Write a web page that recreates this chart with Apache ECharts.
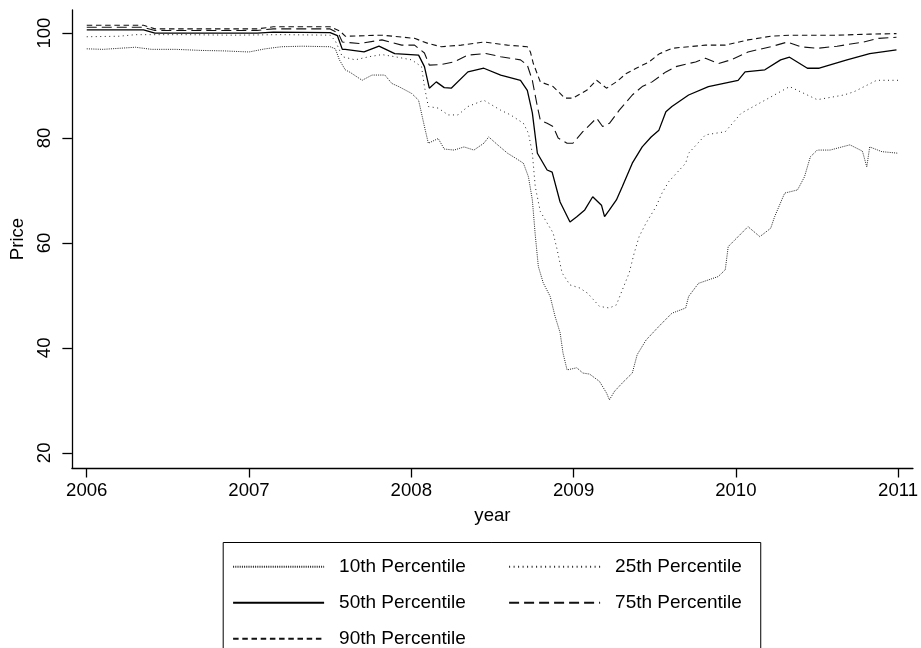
<!DOCTYPE html>
<html>
<head>
<meta charset="utf-8">
<script src="https://cdn.jsdelivr.net/npm/echarts@6/dist/echarts.min.js"></script>
<style>
html,body{margin:0;padding:0;background:#fff;}
#chart{width:921px;height:648px;}
</style>
</head>
<body>
<div id="chart"></div>
<script>
// ---- data ----
var seriesNames = ['10th Percentile', '25th Percentile', '50th Percentile', '75th Percentile', '90th Percentile'];
var xTickLabels = [2006, 2007, 2008, 2009, 2010, 2011];
var yTickLabels = [20, 40, 60, 80, 100];

var p10Years = [2006.00,2006.10,2006.20,2006.30,2006.40,2006.55,2006.70,2006.85,2007.00,2007.10,2007.20,2007.33,2007.50,2007.532,2007.557,2007.593,2007.624,2007.697,2007.758,2007.837,2007.880,2007.923,2008.002,2008.045,2008.081,2008.105,2008.166,2008.203,2008.264,2008.325,2008.386,2008.447,2008.477,2008.532,2008.593,2008.630,2008.691,2008.722,2008.746,2008.764,2008.783,2008.813,2008.856,2008.886,2008.917,2008.935,2008.960,2009.020,2009.057,2009.099,2009.160,2009.203,2009.221,2009.252,2009.300,2009.362,2009.392,2009.447,2009.526,2009.606,2009.691,2009.709,2009.770,2009.892,2009.935,2009.953,2010.014,2010.075,2010.148,2010.215,2010.239,2010.301,2010.380,2010.423,2010.459,2010.502,2010.581,2010.703,2010.780,2010.807,2010.825,2010.900,2011.000];
var p10Values = [97.0,96.9,97.1,97.3,96.9,96.9,96.7,96.6,96.4,97.0,97.4,97.5,97.4,97.0,94.9,93.0,92.5,91.0,92.0,92.0,90.4,89.8,88.5,87.2,82.2,79.0,79.9,77.9,77.7,78.3,77.7,79.0,80.2,78.7,77.1,76.4,75.2,72.6,68.2,61.5,55.5,52.4,49.8,46.0,42.9,39.0,35.8,36.2,35.2,35.0,33.6,31.4,30.1,31.7,33.3,35.2,38.7,41.5,44.1,46.6,47.6,49.8,52.3,53.6,54.9,59.3,61.2,63.1,61.2,62.8,65.0,69.5,70.1,72.6,76.4,77.7,77.7,78.7,77.5,74.5,78.3,77.4,77.1];

var p25Years = [2006.00,2006.20,2006.30,2006.60,2006.90,2007.20,2007.50,2007.532,2007.557,2007.575,2007.654,2007.740,2007.819,2007.898,2008.002,2008.063,2008.081,2008.105,2008.166,2008.227,2008.288,2008.349,2008.447,2008.551,2008.612,2008.691,2008.722,2008.746,2008.764,2008.795,2008.837,2008.874,2008.899,2008.929,2008.978,2009.039,2009.087,2009.160,2009.221,2009.264,2009.300,2009.343,2009.374,2009.404,2009.447,2009.508,2009.545,2009.587,2009.691,2009.709,2009.813,2009.935,2010.032,2010.179,2010.331,2010.502,2010.666,2010.727,2010.868,2011.000];
var p25Values = [99.3,99.4,99.7,99.7,99.6,99.7,99.6,98.5,96.8,95.5,94.9,95.5,95.9,95.5,94.9,93.6,89.8,86.0,85.7,84.4,84.4,86.0,87.2,85.3,84.4,82.8,80.9,77.1,70.7,66.0,63.8,61.9,58.7,54.3,52.0,51.4,50.4,47.9,47.6,48.2,51.0,54.3,58.1,61.2,63.8,66.9,69.5,71.7,75.2,77.1,80.6,81.2,84.7,87.2,89.8,87.3,88.2,88.8,91.0,91.0];

var p50Years = [2006.00,2006.35,2006.42,2007.05,2007.15,2007.50,2007.545,2007.575,2007.593,2007.709,2007.801,2007.898,2008.045,2008.081,2008.111,2008.154,2008.203,2008.246,2008.349,2008.447,2008.551,2008.673,2008.715,2008.746,2008.777,2008.837,2008.868,2008.917,2008.978,2009.020,2009.069,2009.118,2009.172,2009.191,2009.221,2009.264,2009.300,2009.362,2009.423,2009.478,2009.526,2009.569,2009.606,2009.709,2009.831,2010.014,2010.057,2010.179,2010.276,2010.331,2010.441,2010.514,2010.685,2010.825,2010.990];
var p50Values = [100.6,100.6,100.0,100.0,100.2,100.1,99.5,96.9,96.9,96.4,97.5,96.1,95.8,93.6,89.5,90.7,89.6,89.5,92.6,93.3,92.0,91.0,89.1,84.8,77.1,73.9,73.5,67.8,64.0,65.0,66.3,68.8,67.2,65.0,66.3,68.2,70.7,75.2,78.3,80.2,81.5,85.0,86.0,88.2,89.8,91.0,92.6,93.0,94.9,95.4,93.3,93.3,94.9,96.1,96.8];

var p75Years = [2006.00,2006.35,2006.42,2007.05,2007.15,2007.50,2007.55,2007.575,2007.679,2007.819,2007.941,2008.020,2008.081,2008.111,2008.185,2008.264,2008.349,2008.459,2008.551,2008.673,2008.715,2008.746,2008.777,2008.795,2008.837,2008.874,2008.905,2008.960,2008.996,2009.057,2009.142,2009.179,2009.221,2009.282,2009.362,2009.423,2009.484,2009.569,2009.630,2009.752,2009.813,2009.892,2009.971,2010.075,2010.215,2010.319,2010.398,2010.502,2010.624,2010.788,2010.880,2010.990];
var p75Values = [101.1,101.1,100.5,100.5,100.8,100.8,100.0,98.3,98.0,98.7,97.7,97.7,96.2,93.9,94.0,94.5,95.8,96.1,95.5,94.9,93.9,91.0,86.0,83.4,82.8,82.2,80.0,79.0,79.0,81.2,83.8,82.2,82.8,85.3,88.2,89.8,90.7,92.6,93.6,94.5,95.2,94.2,94.9,96.4,97.4,98.3,97.4,97.1,97.5,98.3,99.0,99.2];

var p90Years = [2006.00,2006.35,2006.42,2007.05,2007.15,2007.50,2007.56,2007.593,2007.819,2008.020,2008.105,2008.185,2008.307,2008.447,2008.593,2008.715,2008.734,2008.752,2008.795,2008.874,2008.947,2008.996,2009.081,2009.142,2009.203,2009.264,2009.325,2009.386,2009.465,2009.526,2009.606,2009.813,2009.935,2010.075,2010.215,2010.337,2010.624,2010.825,2010.990];
var p90Values = [101.5,101.5,100.8,100.8,101.2,101.2,100.4,99.4,99.6,99.0,98.0,97.4,97.7,98.3,97.7,97.4,96.4,94.2,90.7,89.8,87.6,87.6,89.1,91.0,89.5,90.7,92.3,93.3,94.5,96.0,97.1,97.7,97.7,98.7,99.4,99.6,99.6,99.8,99.9];

// ---- build ----
function zip(xs, ys) { var out = []; for (var i = 0; i < xs.length; i++) out.push([xs[i], ys[i]]); return out; }
var FONT = '"Liberation Sans", Arial, Helvetica, sans-serif';
var styles = [
  { color: '#222', width: 1, type: [1, 1.2] },
  { color: '#222', width: 1, type: [1, 3.5] },
  { color: '#000', width: 1.3, type: 'solid' },
  { color: '#111', width: 1.1, type: [10, 5] },
  { color: '#111', width: 1.1, type: [5.5, 3.7] }
];
var datas = [zip(p10Years, p10Values), zip(p25Years, p25Values), zip(p50Years, p50Values), zip(p75Years, p75Values), zip(p90Years, p90Values)];

var series = seriesNames.map(function (n, i) {
  return {
    name: n, type: 'line', data: datas[i], symbol: 'none', showSymbol: false,
    lineStyle: styles[i], itemStyle: { color: styles[i].color }, animation: false
  };
});

var col1W = 154, col2W = 126;
var legendData = seriesNames.map(function (n, i) {
  return { name: n, textStyle: { width: (i % 2 === 0) ? col1W : col2W } };
});

var chart = echarts.init(document.getElementById('chart'), null, { renderer: 'canvas' });
chart.setOption({
  backgroundColor: '#fff',
  animation: false,
  grid: { left: 66.7, right: 5, top: 10, bottom: 180, containLabel: false },
  xAxis: {
    type: 'value', min: 2005.9085, max: 2011.0915,
    name: 'year', nameLocation: 'middle', nameGap: 38,
    nameTextStyle: { color: '#000', fontSize: 18.6, fontFamily: FONT },
    axisLine: { show: true, onZero: false, lineStyle: { color: '#000', width: 1.3 } },
    axisTick: { show: true, length: 9.5, customValues: xTickLabels, lineStyle: { color: '#000', width: 1.3 } },
    axisLabel: { customValues: xTickLabels, margin: 13, color: '#000', fontSize: 18.6, fontFamily: FONT,
      formatter: function (v) { return String(v); } },
    splitLine: { show: false }
  },
  yAxis: {
    type: 'value', min: 17.1, max: 104.4,
    name: 'Price', nameLocation: 'middle', nameGap: 38, nameRotate: 90,
    nameTextStyle: { color: '#000', fontSize: 18.6, fontFamily: FONT },
    axisLine: { show: true, onZero: false, lineStyle: { color: '#000', width: 1.3 } },
    axisTick: { show: true, length: 9.5, customValues: yTickLabels, lineStyle: { color: '#000', width: 1.3 } },
    axisLabel: { customValues: yTickLabels, rotate: 90, margin: 18, color: '#000', fontSize: 18.6, fontFamily: FONT,
      formatter: function (v) { return String(v); } },
    splitLine: { show: false }
  },
  legend: {
    show: true, orient: 'horizontal', left: 223.2, top: 542.5, width: 510,
    padding: [13.8, 18.9, 20, 8.9],
    itemGap: 15, itemWidth: 91, itemHeight: 14,
    itemStyle: { opacity: 0 },
    borderColor: '#000', borderWidth: 1, backgroundColor: '#fff',
    textStyle: { color: '#000', fontSize: 19, fontFamily: FONT, padding: [0, 0, 0, 10], lineHeight: 21 },
    data: legendData
  },
  series: series
});
</script>
</body>
</html>
